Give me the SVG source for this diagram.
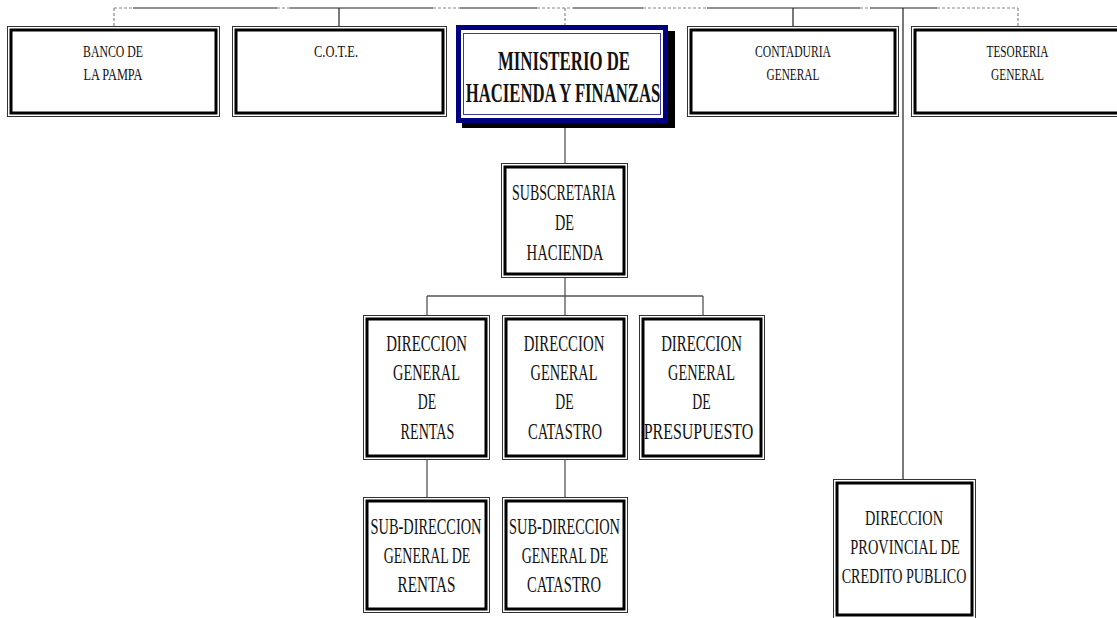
<svg xmlns="http://www.w3.org/2000/svg" width="1117" height="618" viewBox="0 0 1117 618">
<style>
.bg{fill:#fff}
.o{fill:#fff;stroke:#333;stroke-width:1}
.i{fill:none;stroke:#000;stroke-width:3}
.t{font-family:"Liberation Serif","Times New Roman",serif;fill:#111;text-anchor:middle}
.s17{font-size:17px}
.s23{font-size:23px}
.s21{font-size:21px}
.s28{font-size:28px;font-weight:bold}
.c{stroke:#555;stroke-width:1.3;fill:none}
.k{stroke:#222;stroke-width:1.2;fill:none}
.d{stroke:#888;stroke-width:1.2;stroke-dasharray:3 2;fill:none}
</style>
<rect class="bg" x="0" y="0" width="1117" height="618"/>
<g id="connectors">
  <path class="k" d="M133 8H277M290 8H433M460 8H537M573 8H643M707 8H860M870 8H937"/>
  <path class="d" d="M114 8H133M277 8H290M433 8H460M537 8H573M643 8H707M860 8H870M937 8H1018"/>
  <path class="d" d="M114 8V26M565 8V25M1018 8V26"/>
  <path class="k" d="M339 8V26M793 8V26M903 8V479"/>
  <path class="c" d="M565 128V163M565 278V296M427 296H703M427 296V315M565 296V315M703 296V315M427 460V497M565 460V497"/>
</g>
<g id="banco">
  <rect class="o" x="7.5" y="26.5" width="212" height="90"/>
  <rect class="i" x="11" y="30" width="205" height="83"/>
  <text class="t s17" transform="translate(113 57) scale(0.694 1)">BANCO DE</text>
  <text class="t s17" transform="translate(113 80) scale(0.725 1)">LA PAMPA</text>
</g>
<g id="cote">
  <rect class="o" x="232.5" y="26.5" width="214" height="90"/>
  <rect class="i" x="236" y="30" width="207" height="83"/>
  <text class="t s17" transform="translate(336 57) scale(0.733 1)">C.O.T.E.</text>
</g>
<g id="ministerio">
  <rect x="462" y="31" width="213" height="97" fill="#000"/>
  <rect x="458.5" y="27.5" width="207" height="93" fill="#fff" stroke="#000080" stroke-width="5"/>
  <rect x="463.5" y="33.5" width="197" height="81" fill="none" stroke="#3a3aa0" stroke-width="1"/>
  <text class="t s28" transform="translate(564 70) scale(0.6 1)">MINISTERIO DE</text>
  <text class="t s28" transform="translate(563 102) scale(0.597 1)">HACIENDA Y FINANZAS</text>
</g>
<g id="contaduria">
  <rect class="o" x="687.5" y="26.5" width="211" height="90"/>
  <rect class="i" x="691" y="30" width="204" height="83"/>
  <text class="t s17" transform="translate(793 57) scale(0.685 1)">CONTADURIA</text>
  <text class="t s17" transform="translate(793 80) scale(0.668 1)">GENERAL</text>
</g>
<g id="tesoreria">
  <rect class="o" x="911.5" y="26.5" width="219" height="90"/>
  <rect class="i" x="915" y="30" width="212" height="83"/>
  <text class="t s17" transform="translate(1017.5 57) scale(0.663 1)">TESORERIA</text>
  <text class="t s17" transform="translate(1017.5 80) scale(0.668 1)">GENERAL</text>
</g>
<g id="subsecretaria">
  <rect class="o" x="501.5" y="163.5" width="126" height="114"/>
  <rect class="i" x="505" y="167" width="119" height="107"/>
  <text class="t s23" transform="translate(564 200) scale(0.609 1)">SUBSCRETARIA</text>
  <text class="t s23" transform="translate(564.5 230) scale(0.62 1)">DE</text>
  <text class="t s23" transform="translate(565 260) scale(0.641 1)">HACIENDA</text>
</g>
<g id="dg-rentas">
  <rect class="o" x="363.5" y="315.5" width="126" height="144"/>
  <rect class="i" x="367" y="319" width="119" height="137"/>
  <text class="t s23" transform="translate(426.5 351) scale(0.645 1)">DIRECCION</text>
  <text class="t s23" transform="translate(426.5 380) scale(0.624 1)">GENERAL</text>
  <text class="t s23" transform="translate(427 409) scale(0.6 1)">DE</text>
  <text class="t s23" transform="translate(427.5 438.5) scale(0.615 1)">RENTAS</text>
</g>
<g id="dg-catastro">
  <rect class="o" x="502.5" y="315.5" width="125" height="144"/>
  <rect class="i" x="506" y="319" width="118" height="137"/>
  <text class="t s23" transform="translate(564 351) scale(0.645 1)">DIRECCION</text>
  <text class="t s23" transform="translate(564 380) scale(0.624 1)">GENERAL</text>
  <text class="t s23" transform="translate(564.5 409) scale(0.6 1)">DE</text>
  <text class="t s23" transform="translate(565 438.5) scale(0.634 1)">CATASTRO</text>
</g>
<g id="dg-presupuesto">
  <rect class="o" x="639.5" y="315.5" width="125" height="144"/>
  <rect class="i" x="643" y="319" width="118" height="137"/>
  <text class="t s23" transform="translate(701.5 351) scale(0.645 1)">DIRECCION</text>
  <text class="t s23" transform="translate(701.5 380) scale(0.624 1)">GENERAL</text>
  <text class="t s23" transform="translate(701.5 409) scale(0.6 1)">DE</text>
  <text class="t s23" transform="translate(698.5 438.5) scale(0.694 1)">PRESUPUESTO</text>
</g>
<g id="sd-rentas">
  <rect class="o" x="363.5" y="497.5" width="126" height="115"/>
  <rect class="i" x="367" y="501" width="119" height="108"/>
  <text class="t s23" transform="translate(426 533.5) scale(0.625 1)">SUB-DIRECCION</text>
  <text class="t s23" transform="translate(427 563) scale(0.605 1)">GENERAL DE</text>
  <text class="t s23" transform="translate(426.5 592) scale(0.66 1)">RENTAS</text>
</g>
<g id="sd-catastro">
  <rect class="o" x="502.5" y="497.5" width="125" height="115"/>
  <rect class="i" x="506" y="501" width="118" height="108"/>
  <text class="t s23" transform="translate(564.5 533.5) scale(0.625 1)">SUB-DIRECCION</text>
  <text class="t s23" transform="translate(565 563) scale(0.605 1)">GENERAL DE</text>
  <text class="t s23" transform="translate(564 592) scale(0.634 1)">CATASTRO</text>
</g>
<g id="credito-publico">
  <rect class="o" x="833.5" y="479.5" width="142" height="142"/>
  <rect class="i" x="837" y="483" width="135" height="132"/>
  <text class="t s21" transform="translate(904 525) scale(0.682 1)">DIRECCION</text>
  <text class="t s21" transform="translate(905 554) scale(0.686 1)">PROVINCIAL DE</text>
  <text class="t s21" transform="translate(904 583) scale(0.672 1)">CREDITO PUBLICO</text>
</g>
</svg>
